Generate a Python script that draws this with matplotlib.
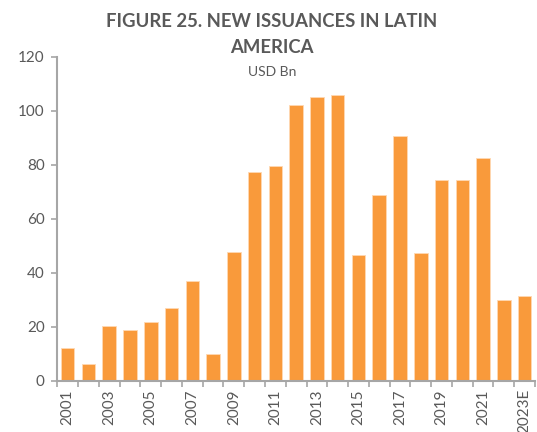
import matplotlib

matplotlib.use("Agg")
import matplotlib.pyplot as plt
import numpy as np

years = ["2001", "2002", "2003", "2004", "2005", "2006", "2007", "2008",
         "2009", "2010", "2011", "2012", "2013", "2014", "2015", "2016",
         "2017", "2018", "2019", "2020", "2021", "2022", "2023E"]
issuance_usd_bn = [12.2, 6.3, 20.4, 18.8, 21.7, 26.9, 36.9, 9.9,
                   47.7, 77.3, 79.5, 102.1, 104.9, 105.7, 46.5, 68.8,
                   90.7, 47.2, 74.4, 74.4, 82.6, 29.9, 31.4]
y_ticks = [0, 20, 40, 60, 80, 100, 120]

TEXT = "#595959"
AXIS = "#A6A6A6"
BAR = "#F99A3B"

plt.rcParams["font.family"] = ["Lato", "DejaVu Sans"]

fig = plt.figure(figsize=(5.37, 4.32), dpi=100)
ax = fig.add_axes([0.1067, 0.1188, 0.8896, 0.75])

x = np.arange(len(years))
ax.bar(x, issuance_usd_bn, width=0.65, color=BAR,
       edgecolor="#FFD9B3", linewidth=0.6)

ax.set_xlim(-0.5, len(years) - 0.5)
ax.set_ylim(0, 120)
ax.set_yticks(y_ticks)
ax.tick_params(axis="y", colors=AXIS, labelcolor=TEXT, labelsize=11,
               length=4, width=1.2, direction="out", pad=5)

# category-boundary ticks, labels on every other year
ax.set_xticks(np.arange(len(years) + 1) - 0.5)
ax.set_xticklabels([])
ax.set_xticks(x[::2], minor=True)
ax.set_xticklabels(years[::2], minor=True, rotation=90)
ax.tick_params(axis="x", which="major", colors=AXIS, length=4, width=1.2,
               direction="out")
ax.tick_params(axis="x", which="minor", length=0, labelcolor=TEXT,
               labelsize=11, pad=6)

for side in ("top", "right"):
    ax.spines[side].set_visible(False)
for side in ("left", "bottom"):
    ax.spines[side].set_color(AXIS)
    ax.spines[side].set_linewidth(1.5)

fig.text(0.506, 0.95, "FIGURE 25. NEW ISSUANCES IN LATIN", ha="center",
         va="center", fontsize=13.3, fontweight="bold", color=TEXT)
fig.text(0.506, 0.889, "AMERICA", ha="center", va="center",
         fontsize=13.3, fontweight="bold", color=TEXT)
fig.text(0.506, 0.834, "USD Bn", ha="center", va="center",
         fontsize=10, color=TEXT)

fig.savefig("out.png", dpi=100)
